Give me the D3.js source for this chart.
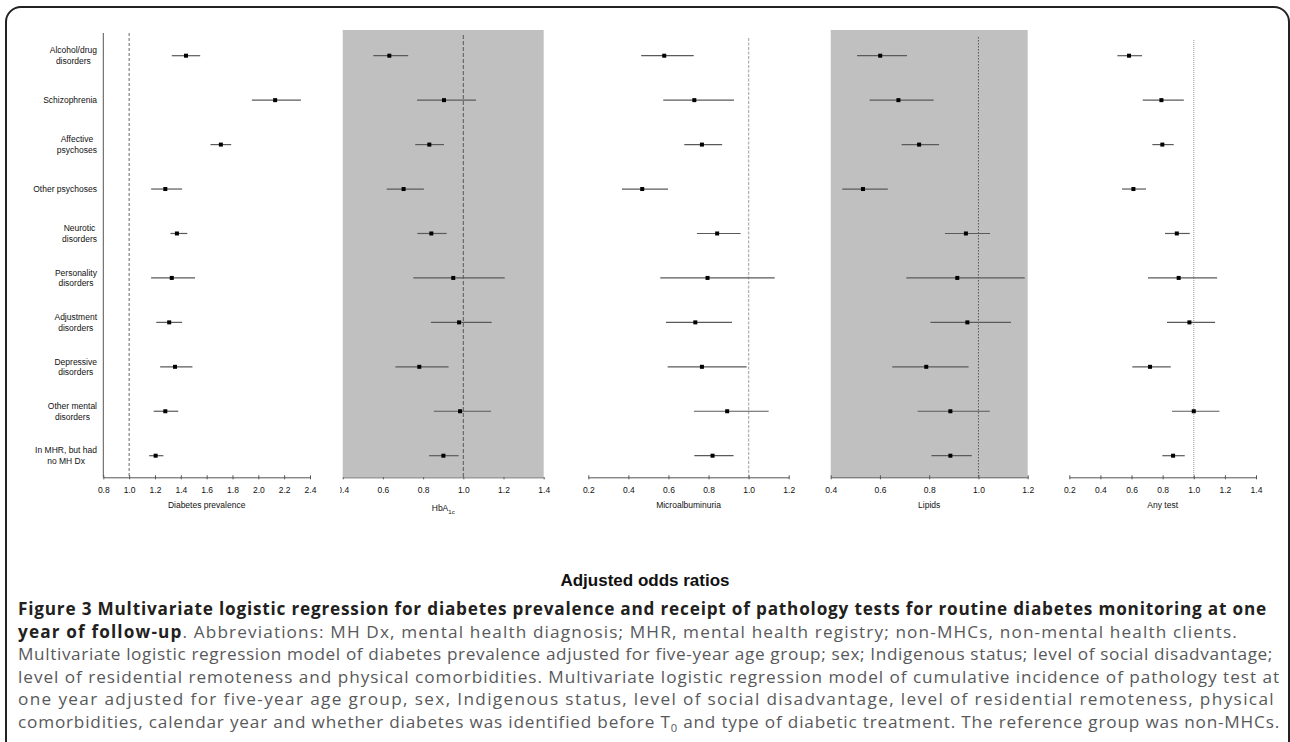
<!DOCTYPE html>
<html><head><meta charset="utf-8">
<script src="https://cdn.jsdelivr.net/npm/d3@7"></script>
<style>body{margin:0;background:#fff}svg{display:block}</style>
</head><body>
<svg id="c" width="1290" height="742"></svg>
<script>
// ---------------- DATA ----------------
const categories = ["Alcohol/drug\ndisorders","Schizophrenia","Affective\npsychoses","Other psychoses","Neurotic\ndisorders","Personality\ndisorders","Adjustment\ndisorders","Depressive\ndisorders","Other mental\ndisorders","In MHR, but had\nno MH Dx"];

const prevalenceOR   = [1.44, 2.13, 1.71, 1.28, 1.37, 1.33, 1.31, 1.355, 1.28, 1.205];
const prevalenceLow  = [1.33, 1.95, 1.63, 1.17, 1.32, 1.17, 1.21, 1.24, 1.19, 1.155];
const prevalenceHigh = [1.55, 2.33, 1.79, 1.41, 1.45, 1.51, 1.41, 1.49, 1.38, 1.265];

const hba1cOR   = [0.632, 0.904, 0.831, 0.703, 0.841, 0.950, 0.979, 0.781, 0.984, 0.901];
const hba1cLow  = [0.552, 0.770, 0.761, 0.619, 0.771, 0.751, 0.839, 0.662, 0.853, 0.830];
const hba1cHigh = [0.726, 1.063, 0.904, 0.804, 0.917, 1.206, 1.141, 0.927, 1.138, 0.977];

const microOR   = [0.579, 0.729, 0.767, 0.469, 0.843, 0.795, 0.734, 0.767, 0.893, 0.820];
const microLow  = [0.464, 0.574, 0.679, 0.368, 0.742, 0.559, 0.588, 0.596, 0.727, 0.729];
const microHigh = [0.726, 0.927, 0.868, 0.598, 0.960, 1.130, 0.917, 0.990, 1.100, 0.925];

const lipidsOR   = [0.601, 0.675, 0.759, 0.531, 0.949, 0.914, 0.955, 0.788, 0.886, 0.886];
const lipidsLow  = [0.507, 0.558, 0.688, 0.447, 0.864, 0.707, 0.805, 0.650, 0.753, 0.809];
const lipidsHigh = [0.710, 0.818, 0.840, 0.632, 1.047, 1.188, 1.132, 0.960, 1.046, 0.973];

const anyTestOR   = [0.584, 0.792, 0.798, 0.612, 0.891, 0.903, 0.972, 0.719, 1.000, 0.867];
const anyTestLow  = [0.509, 0.672, 0.734, 0.539, 0.815, 0.706, 0.828, 0.605, 0.860, 0.798];
const anyTestHigh = [0.668, 0.936, 0.871, 0.693, 0.974, 1.150, 1.137, 0.852, 1.165, 0.942];

const prevalenceTicks = [0.8,1.0,1.2,1.4,1.6,1.8,2.0,2.2,2.4];
const hba1cTicks      = [0.4,0.6,0.8,1.0,1.2,1.4];
const microTicks      = [0.2,0.4,0.6,0.8,1.0,1.2];
const lipidsTicks     = [0.4,0.6,0.8,1.0,1.2];
const anyTestTicks    = [0.2,0.4,0.6,0.8,1.0,1.2,1.4];

const panelTitles = ["Diabetes prevalence","HbA","Microalbuminuria","Lipids","Any test"];
const overallTitle = "Adjusted odds ratios";

// ---------------- LAYOUT ----------------
const svg = d3.select("#c");
const axisY = 477.3;
const LBL = "'Liberation Sans', Arial, sans-serif";

svg.append("rect").attr("x",6).attr("y",7).attr("width",1283).attr("height",800)
  .attr("rx",15).attr("ry",15).attr("fill","none").attr("stroke","#222").attr("stroke-width",2);

const y = d3.scalePoint().domain(categories).range([55.7, 455.7]);

const panels = [
  {or:prevalenceOR, lo:prevalenceLow, hi:prevalenceHigh, ticks:prevalenceTicks, domain:[0.8,2.4], range:[103.3,310], bg:false,
   ref:{top:33, stroke:"#666", dash:"3,2", w:1}, title:panelTitles[0], yaxis:true},
  {or:hba1cOR, lo:hba1cLow, hi:hba1cHigh, ticks:hba1cTicks, domain:[0.4,1.4], range:[342.7,543.7], bg:true,
   ref:{top:35, stroke:"#555", dash:"4,2", w:1}, title:panelTitles[1], sub:"1c", clipLeft:340},
  {or:microOR, lo:microLow, hi:microHigh, ticks:microTicks, domain:[0.2,1.2], range:[588.3,788.7], bg:false,
   ref:{top:38, stroke:"#b5b5b5", dash:"3,1.5", w:1.3}, title:panelTitles[2]},
  {or:lipidsOR, lo:lipidsLow, hi:lipidsHigh, ticks:lipidsTicks, domain:[0.4,1.2], range:[830.7,1027.7], bg:true,
   ref:{top:37, stroke:"#555", dash:"1.5,1.5", w:1}, title:panelTitles[3]},
  {or:anyTestOR, lo:anyTestLow, hi:anyTestHigh, ticks:anyTestTicks, domain:[0.2,1.4], range:[1069.3,1256], bg:false,
   ref:{top:40, stroke:"#999", dash:"1,1", w:1}, title:panelTitles[4]}
];

const defs = svg.append("defs");

panels.forEach((p, pi) => {
  const x = d3.scaleLinear().domain(p.domain).range(p.range);
  const g = svg.append("g");
  if (p.bg) {
    g.append("rect").attr("x", p.range[0]).attr("y", 30)
      .attr("width", p.range[1]-p.range[0]).attr("height", axisY-30).attr("fill", "#c0c0c0");
  }
  if (p.yaxis) {
    g.append("line").attr("x1", p.range[0]).attr("x2", p.range[0]).attr("y1", 33).attr("y2", axisY)
      .attr("stroke", "#555").attr("stroke-width", 1);
  }
  g.append("line").attr("x1", x(1)).attr("x2", x(1)).attr("y1", p.ref.top).attr("y2", axisY)
    .attr("stroke", p.ref.stroke).attr("stroke-dasharray", p.ref.dash).attr("stroke-width", p.ref.w);

  const ax = g.append("g").attr("transform", `translate(0,${axisY})`)
    .call(d3.axisBottom(x).tickValues(p.ticks).tickFormat(d3.format(".1f")).tickSize(3).tickSizeOuter(0));
  ax.select(".domain").attr("stroke", "#555");
  ax.selectAll(".tick line").attr("y1", -2).attr("y2", 2).attr("stroke", "#555");
  ax.selectAll(".tick text").attr("y", 10).attr("dy", "0.71em").attr("font-family", LBL)
    .attr("font-size", 8.5).attr("fill", "#111");
  if (p.clipLeft) {
    const id = "clip" + pi;
    defs.append("clipPath").attr("id", id).append("rect").attr("x", p.clipLeft).attr("y", 0).attr("width", 2000).attr("height", 800);
    ax.attr("clip-path", `url(#${id})`);
  }

  const t = g.append("text").attr("x", (p.range[0]+p.range[1])/2).attr("y", p.sub ? 511 : 508)
    .attr("text-anchor", "middle").attr("font-family", LBL).attr("font-size", 8.5).attr("fill", "#111");
  t.append("tspan").text(p.title);
  if (p.sub) t.append("tspan").attr("font-size", 6).attr("dy", 2.5).text(p.sub);

  categories.forEach((c, i) => {
    g.append("line").attr("x1", x(p.lo[i])).attr("x2", x(p.hi[i])).attr("y1", y(c)).attr("y2", y(c))
      .attr("stroke", "#5a5a5a").attr("stroke-width", 1.2);
    g.append("rect").attr("x", x(p.or[i]) - 2).attr("y", y(c) - 2).attr("width", 4).attr("height", 4).attr("fill", "#000");
  });
});

categories.forEach(c => {
  const lines = c.split("\n");
  const t = svg.append("text").attr("text-anchor", "middle").attr("font-family", LBL)
    .attr("font-size", 8.5).attr("fill", "#111");
  const lh = 10.5;
  const y0 = y(c) - (lines.length-1)*lh/2 + 3;
  const spans = lines.map((l, k) => t.append("tspan").attr("y", y0 + k*lh).text(l));
  const wmax = d3.max(spans, s => s.node().getComputedTextLength());
  spans.forEach(s => s.attr("x", 97 - wmax/2));
});

svg.append("text").attr("x", 645).attr("y", 586).attr("text-anchor", "middle")
  .attr("font-family", LBL).attr("font-weight", "bold").attr("font-size", 17).attr("fill", "#111").text(overallTitle);

// ---------------- CAPTION ----------------
const CAP = "'Open Sans', 'Noto Sans', sans-serif";
const capLines = [
  {parts:[{t:"Figure 3 Multivariate logistic regression for diabetes prevalence and receipt of pathology tests for routine diabetes monitoring at one", b:true}], target:1249},
  {parts:[{t:"year of follow-up", b:true},{t:". Abbreviations: MH Dx, mental health diagnosis; MHR, mental health registry; non-MHCs, non-mental health clients.", b:false}], target:1220},
  {parts:[{t:"Multivariate logistic regression model of diabetes prevalence adjusted for five-year age group; sex; Indigenous status; level of social disadvantage;", b:false}], target:1255},
  {parts:[{t:"level of residential remoteness and physical comorbidities. Multivariate logistic regression model of cumulative incidence of pathology test at", b:false}], target:1262},
  {parts:[{t:"one year adjusted for five-year age group, sex, Indigenous status, level of social disadvantage, level of residential remoteness, physical", b:false}], target:1257},
  {parts:[{t:"comorbidities, calendar year and whether diabetes was identified before T", b:false},{t:"0", b:false, sub:true},{t:" and type of diabetic treatment. The reference group was non-MHCs.", b:false}], target:1262}
];
const capLeft = 18;
const fs = 17.2;
capLines.forEach((L, i) => {
  const t = svg.append("text").attr("class","cap").attr("x", capLeft).attr("y", 615 + i*22.6)
    .attr("font-family", CAP).attr("font-size", fs);
  const spans = L.parts.map((p, k) => {
    const s = t.append("tspan").text(p.t).attr("fill", p.b ? "#231f20" : "#58595b")
      .attr("font-weight", p.b ? "bold" : "normal");
    if (p.sub) s.attr("font-size", fs*0.65).attr("dy", 4);
    else if (k > 0 && L.parts[k-1].sub) s.attr("dy", -4);
    return s;
  });
  const chars = L.parts.map(p=>p.t).join("").length;
  let ls = 0;
  for (let it = 0; it < 4; it++) {
    const lastSpan = spans[spans.length-1].node();
    const n = lastSpan.getNumberOfChars();
    const endX = lastSpan.getEndPositionOfChar(n-1).x;
    const w = endX - capLeft;
    ls += (L.target - w) / chars;
    spans.forEach(s => s.attr("letter-spacing", ls));
  }
});
</script>
</body></html>
